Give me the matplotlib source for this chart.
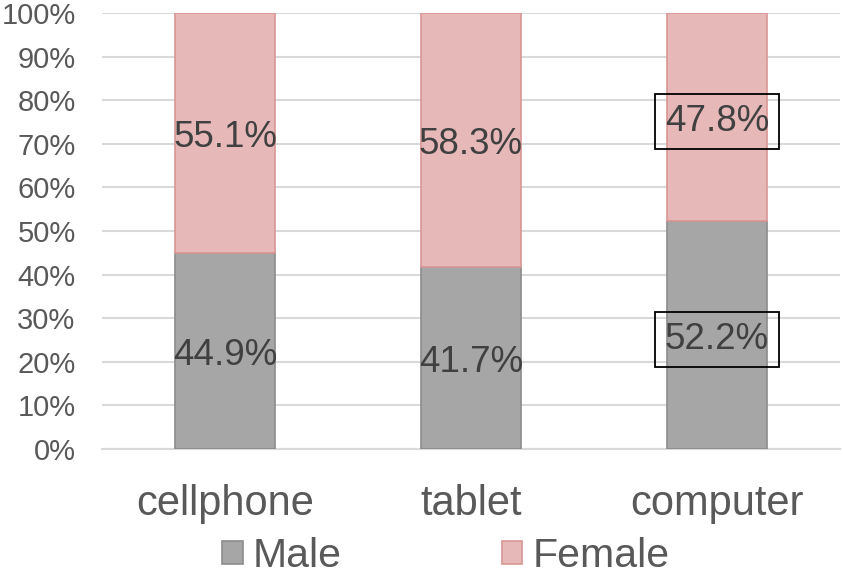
import matplotlib.pyplot as plt
import numpy as np
from matplotlib.ticker import PercentFormatter

plt.rcParams['font.family'] = ['Liberation Sans', 'DejaVu Sans']

devices = ['cellphone', 'tablet', 'computer']
male = [44.9, 41.7, 52.2]
female = [55.1, 58.3, 47.8]
boxed = [False, False, True]

fig = plt.figure(figsize=(8.43, 5.76), dpi=100)
ax = fig.add_axes([102/843, 127/576, 738/843, 436/576])

x = np.arange(len(devices))
w = 0.405
ax.bar(x, male, w, color='#A6A6A6', edgecolor='#8C8C8C', linewidth=1.2, label='Male', zorder=3)
ax.bar(x, female, w, bottom=male, color='#E6B8B7', edgecolor='#D99694', linewidth=1.2, label='Female', zorder=3)

for i in range(len(devices)):
    bb = dict(boxstyle='square,pad=0.26', fc='none', ec='black', lw=1.3) if boxed[i] else None
    ax.text(x[i], male[i] / 2 - 1, f'{male[i]:.1f}%', ha='center', va='center',
            fontsize=26.5, color='#404040', bbox=bb, zorder=4)
    ax.text(x[i], male[i] + female[i] / 2 - 1, f'{female[i]:.1f}%', ha='center', va='center',
            fontsize=26.5, color='#404040', bbox=bb, zorder=4)

ax.set_xlim(-0.5, 2.5)
ax.set_ylim(0, 100)
ax.set_yticks(np.arange(0, 101, 10))
ax.yaxis.set_major_formatter(PercentFormatter(decimals=0))
ax.set_xticks(x)
ax.set_xticklabels(devices)
ax.tick_params(axis='y', length=0, labelsize=21, labelcolor='#595959', pad=19)
ax.tick_params(axis='x', length=0, labelsize=30, labelcolor='#595959', pad=25)
ax.grid(axis='y', color='#D9D9D9', linewidth=1.5, zorder=0)
for s in ['top', 'right', 'left']:
    ax.spines[s].set_visible(False)
ax.spines['bottom'].set_color('#D9D9D9')
ax.spines['bottom'].set_linewidth(1.5)

fig.legend(loc='lower center', bbox_to_anchor=(446/843, -0.062), ncol=2, frameon=False,
           fontsize=29.5, handlelength=0.5, handleheight=0.5, handletextpad=0.25,
           columnspacing=3.9, labelcolor='#595959')

fig.savefig('out.png', dpi=100)
